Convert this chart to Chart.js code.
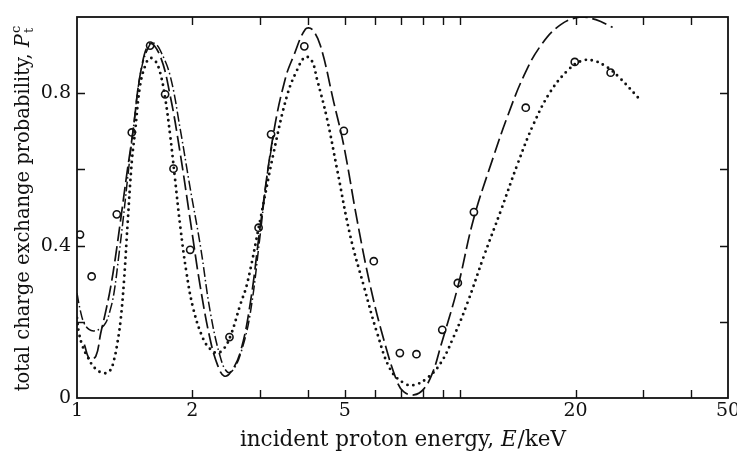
<!DOCTYPE html>
<html lang="en">
<head>
  <meta charset="UTF-8">
  <title>Total charge exchange probability</title>
  <script src="https://cdn.jsdelivr.net/npm/chart.js"></script>
  <style>
    body { margin: 0; background: #fff; }
    .wrap { width: 737px; height: 458px; }
  </style>
</head>
<body>
  <div class="wrap"><canvas id="chart" width="737" height="458"></canvas></div>
  <script>
    // values (E in keV, probability 0..1)
    const chainE = [1.0, 1.02, 1.043, 1.075, 1.108, 1.15, 1.188, 1.22, 1.249, 1.288, 1.32, 1.36, 1.40, 1.47, 1.55, 1.60, 1.65, 1.75, 1.86, 1.97, 2.10, 2.23, 2.37, 2.47, 2.56, 2.68, 2.83, 3.0, 3.13, 3.26];
    const chainP = [0.275, 0.23, 0.197, 0.18, 0.176, 0.182, 0.197, 0.23, 0.276, 0.38, 0.47, 0.59, 0.70, 0.86, 0.928, 0.93, 0.912, 0.846, 0.705, 0.556, 0.398, 0.223, 0.105, 0.068, 0.075, 0.12, 0.22, 0.42, 0.58, 0.69];

    const dashE = [1.045, 1.08, 1.12, 1.153, 1.19, 1.225, 1.26, 1.30, 1.35, 1.40, 1.47, 1.55, 1.648, 1.751, 1.858, 1.974, 2.097, 2.227, 2.33, 2.42, 2.52, 2.668, 2.833, 3.008, 3.26, 3.5, 3.676, 3.944, 4.1, 4.317, 4.679, 4.97, 5.38, 5.83, 6.32, 6.85, 7.13, 7.57, 8.04, 8.5, 8.89, 9.85, 10.84, 12.23, 13.3, 14.65, 16.23, 18.3, 20.64, 22.6, 25];
    const dashP = [0.14, 0.102, 0.11, 0.17, 0.23, 0.293, 0.37, 0.468, 0.59, 0.70, 0.862, 0.93, 0.898, 0.793, 0.644, 0.468, 0.293, 0.153, 0.085, 0.058, 0.068, 0.12, 0.249, 0.451, 0.697, 0.84, 0.898, 0.968, 0.968, 0.925, 0.776, 0.662, 0.468, 0.293, 0.153, 0.042, 0.016, 0.008, 0.024, 0.07, 0.135, 0.29, 0.47, 0.635, 0.74, 0.845, 0.925, 0.98, 1.0, 0.993, 0.973];

    const dotE = [1.0, 1.012, 1.035, 1.064, 1.114, 1.177, 1.22, 1.249, 1.275, 1.30, 1.327, 1.354, 1.39, 1.418, 1.461, 1.51, 1.55, 1.60, 1.648, 1.70, 1.75, 1.80, 1.86, 1.93, 2.014, 2.139, 2.23, 2.32, 2.42, 2.52, 2.668, 2.78, 3.008, 3.26, 3.532, 3.75, 3.944, 4.1, 4.23, 4.495, 4.773, 5.17, 5.607, 6.073, 6.58, 7.13, 7.57, 8.2, 8.89, 9.61, 10.45, 11.51, 12.75, 14.13, 15.56, 17.23, 19.09, 20.64, 22.19, 24.28, 26.27, 29.09];
    const dotP = [0.21, 0.17, 0.135, 0.109, 0.078, 0.065, 0.072, 0.10, 0.145, 0.205, 0.31, 0.45, 0.62, 0.70, 0.82, 0.875, 0.892, 0.885, 0.854, 0.785, 0.69, 0.58, 0.45, 0.33, 0.232, 0.153, 0.128, 0.118, 0.13, 0.165, 0.245, 0.30, 0.468, 0.644, 0.793, 0.86, 0.895, 0.885, 0.837, 0.732, 0.6, 0.424, 0.293, 0.17, 0.074, 0.039, 0.034, 0.052, 0.091, 0.16, 0.25, 0.37, 0.49, 0.615, 0.72, 0.805, 0.86, 0.884, 0.886, 0.867, 0.837, 0.789];

    const circleE = [1.018, 1.092, 1.27, 1.39, 1.552, 1.698, 1.786, 1.974, 2.5, 2.978, 3.21, 3.92, 4.97, 5.95, 6.96, 7.69, 8.98, 9.86, 10.86, 14.83, 19.91, 24.7];
    const circleP = [0.429, 0.319, 0.482, 0.697, 0.925, 0.797, 0.602, 0.389, 0.16, 0.447, 0.692, 0.923, 0.701, 0.359, 0.118, 0.115, 0.179, 0.302, 0.488, 0.762, 0.882, 0.854];

    const xTicks = [1, 2, 3, 4, 5, 6, 7, 8, 9, 10, 20, 30, 40, 50];
    const xLabels = [1, 2, 5, 20, 50];
    const yTicks = [0, 0.2, 0.4, 0.6, 0.8, 1.0];
    const yLabels = ['0', '', '0.4', '', '0.8', ''];

    const serif = "'DejaVu Serif', serif";

    function pts(xs, ys) {
      return xs.map((x, i) => ({ x: x, y: ys[i] }));
    }

    function lineSet(data, dash, width) {
      return {
        data: data,
        showLine: true,
        borderColor: '#111',
        borderWidth: width,
        borderDash: dash,
        pointRadius: 0,
        tension: 0.4,
        fill: false
      };
    }

    // frame, inward ticks and the two axis titles
    const framePlugin = {
      id: 'frame',
      afterDraw(chart) {
        const { ctx, chartArea: a, scales: { x, y } } = chart;
        ctx.save();
        ctx.strokeStyle = '#111';
        ctx.lineWidth = 1.8;
        ctx.strokeRect(a.left, a.top, a.right - a.left, a.bottom - a.top);

        ctx.lineWidth = 1.4;
        ctx.beginPath();
        x.ticks.forEach(t => {
          const px = Math.round(x.getPixelForValue(t.value)) + 0.5;
          if (px < a.left + 2 || px > a.right - 2) return;
          ctx.moveTo(px, a.bottom); ctx.lineTo(px, a.bottom - 8);
          ctx.moveTo(px, a.top); ctx.lineTo(px, a.top + 8);
        });
        y.ticks.forEach(t => {
          const py = Math.round(y.getPixelForValue(t.value)) + 0.5;
          if (py < a.top + 2 || py > a.bottom - 2) return;
          ctx.moveTo(a.left, py); ctx.lineTo(a.left + 8, py);
          ctx.moveTo(a.right, py); ctx.lineTo(a.right - 8, py);
        });
        ctx.stroke();

        ctx.fillStyle = '#111';
        ctx.textBaseline = 'alphabetic';
        ctx.textAlign = 'left';

        // x title
        const xa = 'incident proton energy, ', xb = 'E', xc = '/keV';
        const fN = '21.5px ' + serif, fI = 'italic 21.5px ' + serif;
        ctx.font = fN; const wa = ctx.measureText(xa).width, wc = ctx.measureText(xc).width;
        ctx.font = fI; const wb = ctx.measureText(xb).width;
        const sx = (a.left + a.right) / 2 - (wa + wb + wc) / 2;
        ctx.font = fN; ctx.fillText(xa, sx, 446);
        ctx.font = fI; ctx.fillText(xb, sx + wa, 446);
        ctx.font = fN; ctx.fillText(xc, sx + wa + wb + 1, 446);

        // y title, rotated
        const ya = 'total charge exchange probability, ', yb = 'P';
        const gN = '19.5px ' + serif, gI = 'italic 19.5px ' + serif, gS = '13px ' + serif;
        ctx.font = gN; const va = ctx.measureText(ya).width;
        ctx.font = gI; const vb = ctx.measureText(yb).width;
        ctx.font = gS; const vs = ctx.measureText('c').width;
        const total = va + vb + vs + 1;
        ctx.translate(29, (a.top + a.bottom) / 2 + 1);
        ctx.rotate(-Math.PI / 2);
        const s = -total / 2;
        ctx.font = gN; ctx.fillText(ya, s, 0);
        ctx.font = gI; ctx.fillText(yb, s + va, 0);
        ctx.font = gS;
        ctx.fillText('c', s + va + vb + 1, -9);
        ctx.fillText('t', s + va + vb + 1, 4);
        ctx.restore();
      }
    };

    new Chart(document.getElementById('chart'), {
      type: 'scatter',
      data: {
        datasets: [
          lineSet(pts(chainE, chainP), [10, 3, 1.5, 3], 1.5),
          lineSet(pts(dashE, dashP), [15, 5], 1.7),
          Object.assign(lineSet(pts(dotE, dotP), [0, 6], 2.9), { borderCapStyle: 'round' }),
          {
            data: pts(circleE, circleP),
            showLine: false,
            pointStyle: 'circle',
            pointRadius: 3.6,
            pointBorderWidth: 1.6,
            pointBorderColor: '#111',
            pointBackgroundColor: '#fff'
          }
        ]
      },
      options: {
        responsive: false,
        animation: false,
        layout: { padding: { top: 17, right: 9, left: 0, bottom: 0 } },
        plugins: {
          legend: { display: false },
          tooltip: { enabled: false }
        },
        scales: {
          x: {
            type: 'logarithmic',
            min: 1,
            max: 50,
            afterBuildTicks: s => { s.ticks = xTicks.map(v => ({ value: v })); },
            afterFit: s => { s.height = 60; s.paddingLeft = 0; s.paddingRight = 0; },
            grid: { display: false, drawTicks: false },
            border: { display: false },
            ticks: {
              autoSkip: false,
              maxRotation: 0,
              padding: 2,
              color: '#111',
              font: { family: serif, size: 19 },
              callback: v => xLabels.includes(v) ? String(v) : ''
            }
          },
          y: {
            min: 0,
            max: 1,
            afterBuildTicks: s => { s.ticks = yTicks.map(v => ({ value: v })); },
            afterFit: s => { s.width = 77; s.paddingTop = 0; s.paddingBottom = 0; },
            grid: { display: false, drawTicks: false },
            border: { display: false },
            ticks: {
              padding: 6,
              color: '#111',
              font: { family: serif, size: 19 },
              callback: (v, i) => yLabels[i]
            }
          }
        }
      },
      plugins: [framePlugin]
    });
  </script>
</body>
</html>
